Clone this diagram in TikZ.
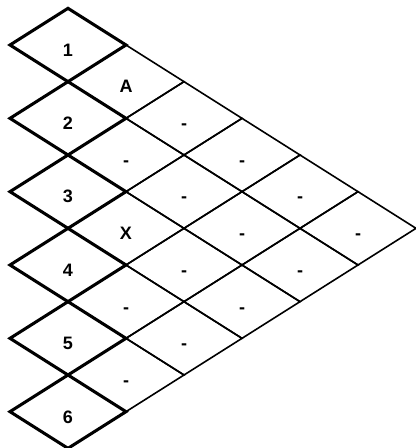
\documentclass[tikz,border=0pt]{standalone}
\usepackage{fontspec}
\setmainfont{Liberation Sans}
\usetikzlibrary{shapes.geometric, positioning}

\begin{document}
\begin{tikzpicture}[
  node distance=0pt,
  cell/.style={diamond, draw=black, line width=1.2pt, minimum width=87pt,
               minimum height=55pt, inner sep=0pt, outer sep=0pt,
               text height=17pt, text depth=0pt,
               font=\fontsize{13.5}{15}\selectfont\bfseries},
  numbox/.style={cell, line width=2.3pt},
]
  \useasboundingbox (-51pt,33.75pt) rectangle (261pt,-302.25pt);

  % numbered column
  \node[numbox]              (n1) {1};
  \node[numbox, below=of n1] (n2) {2};
  \node[numbox, below=of n2] (n3) {3};
  \node[numbox, below=of n3] (n4) {4};
  \node[numbox, below=of n4] (n5) {5};
  \node[numbox, below=of n5] (n6) {6};

  % triangle of cells
  \node[cell, below right=of n1] (c11) {A};
  \node[cell, below right=of n2] (c12) {-};
  \node[cell, below right=of n3] (c13) {X};
  \node[cell, below right=of n4] (c14) {-};
  \node[cell, below right=of n5] (c15) {-};

  \node[cell, below right=of c11] (c21) {-};
  \node[cell, below right=of c12] (c22) {-};
  \node[cell, below right=of c13] (c23) {-};
  \node[cell, below right=of c14] (c24) {-};

  \node[cell, below right=of c21] (c31) {-};
  \node[cell, below right=of c22] (c32) {-};
  \node[cell, below right=of c23] (c33) {-};

  \node[cell, below right=of c31] (c41) {-};
  \node[cell, below right=of c32] (c42) {-};

  \node[cell, below right=of c41] (c51) {-};
\end{tikzpicture}
\end{document}
